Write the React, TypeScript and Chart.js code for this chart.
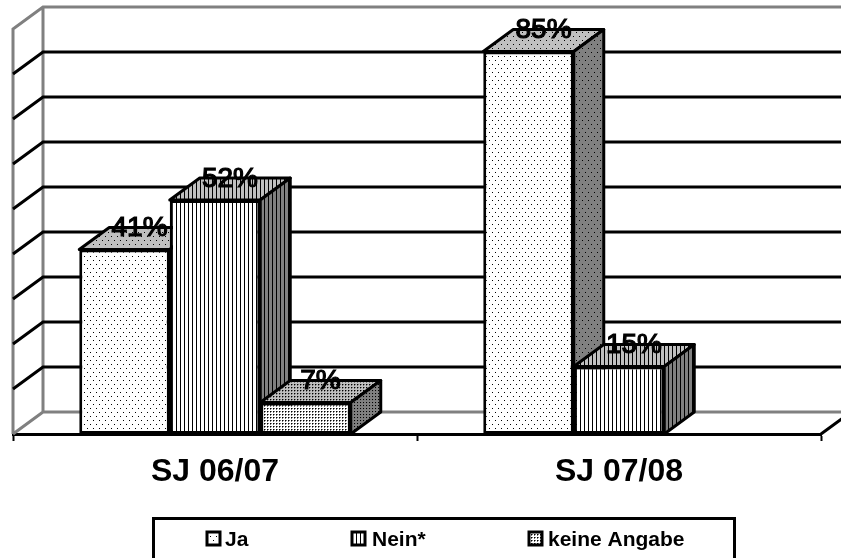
import React, { useEffect, useRef } from "react";
import { Chart, registerables } from "chart.js";

Chart.register(...registerables);

const categories = ["SJ 06/07", "SJ 07/08"];
const ja = [41, 85];
const nein = [52, 15];
const keineAngabe = [7, null];
const seriesNames = ["Ja", "Nein*", "keine Angabe"];
const yTicks = { min: 0, max: 90, stepSize: 10 };

const DEPTH_X = 30;
const DEPTH_Y = 22;
const FONT = '"Liberation Sans", Arial, sans-serif';

type Kind = 0 | 1 | 2;

function makePattern(ctx: CanvasRenderingContext2D, kind: Kind, bg: string) {
  const c = document.createElement("canvas");
  const g = c.getContext("2d")!;
  c.width = kind === 0 ? 6 : kind === 1 ? 4 : 3;
  c.height = kind === 0 ? 8 : kind === 1 ? 4 : 3;
  g.fillStyle = bg;
  g.fillRect(0, 0, c.width, c.height);
  g.fillStyle = "#000";
  if (kind === 0) {
    g.fillRect(0, 0, 1, 1);
    g.fillRect(3, 4, 1, 1);
  } else if (kind === 1) {
    g.fillRect(0, 0, 1, 4);
  } else {
    g.fillRect(0, 0, 1, 1);
    g.fillStyle = "#777";
    g.fillRect(1, 0, 1, 1);
    g.fillRect(0, 1, 1, 1);
  }
  return ctx.createPattern(c, "repeat")!;
}

const poly = (ctx: CanvasRenderingContext2D, pts: number[][], fill: any) => {
  ctx.beginPath();
  pts.forEach((p, i) => (i ? ctx.lineTo(p[0], p[1]) : ctx.moveTo(p[0], p[1])));
  ctx.closePath();
  ctx.fillStyle = fill;
  ctx.fill();
  ctx.stroke();
};

const walls3d = {
  id: "walls3d",
  beforeDatasetsDraw(chart: any) {
    const { ctx, chartArea: a, scales } = chart;
    const width = chart.width;
    ctx.save();
    ctx.lineWidth = 3;
    ctx.strokeStyle = "#808080";
    const topFront = scales.y.getPixelForValue(yTicks.max);
    const floor = scales.y.getPixelForValue(0);
    ctx.beginPath();
    ctx.moveTo(a.left, floor);
    ctx.lineTo(a.left, topFront);
    ctx.lineTo(a.left + DEPTH_X, topFront - DEPTH_Y);
    ctx.lineTo(width, topFront - DEPTH_Y);
    ctx.moveTo(a.left + DEPTH_X, topFront - DEPTH_Y);
    ctx.lineTo(a.left + DEPTH_X, floor - DEPTH_Y);
    ctx.lineTo(width, floor - DEPTH_Y);
    ctx.moveTo(a.left + DEPTH_X, floor - DEPTH_Y);
    ctx.lineTo(a.left, floor);
    ctx.stroke();

    ctx.strokeStyle = "#000";
    ctx.beginPath();
    scales.y.ticks.forEach((t: any) => {
      const y = scales.y.getPixelForValue(t.value);
      if (t.value === yTicks.min || t.value === yTicks.max) return;
      ctx.moveTo(a.left, y);
      ctx.lineTo(a.left + DEPTH_X, y - DEPTH_Y);
      ctx.lineTo(width, y - DEPTH_Y);
    });
    ctx.moveTo(a.right, floor);
    ctx.lineTo(a.right + DEPTH_X, floor - DEPTH_Y);
    ctx.stroke();

    // side and top faces of every bar, in dataset order
    ctx.lineWidth = 3;
    ctx.strokeStyle = "#000";
    ctx.lineJoin = "round";
    chart.data.datasets.forEach((ds: any, di: number) => {
      const meta = chart.getDatasetMeta(di);
      meta.data.forEach((el: any, i: number) => {
        if (ds.data[i] === null) return;
        const l = el.x - el.width / 2;
        const r = el.x + el.width / 2;
        const t = el.y;
        const b = el.base;
        poly(ctx, [[l, t], [l + DEPTH_X, t - DEPTH_Y], [r + DEPTH_X, t - DEPTH_Y], [r, t]], makePattern(ctx, di as Kind, "#c0c0c0"));
        poly(ctx, [[r, t], [r + DEPTH_X, t - DEPTH_Y], [r + DEPTH_X, b - DEPTH_Y], [r, b]], makePattern(ctx, di as Kind, "#808080"));
      });
    });
    ctx.restore();
  },
  afterDatasetsDraw(chart: any) {
    const { ctx } = chart;
    ctx.save();
    ctx.font = `28px ${FONT}`;
    ctx.fillStyle = "#000";
    ctx.strokeStyle = "#000";
    ctx.lineWidth = 1.2;
    ctx.textAlign = "center";
    ctx.textBaseline = "middle";
    chart.data.datasets.forEach((ds: any, di: number) => {
      chart.getDatasetMeta(di).data.forEach((el: any, i: number) => {
        if (ds.data[i] === null) return;
        const text = `${ds.data[i]}%`;
        ctx.fillText(text, el.x + DEPTH_X / 2, el.y - DEPTH_Y + 1);
        ctx.strokeText(text, el.x + DEPTH_X / 2, el.y - DEPTH_Y + 1);
      });
    });
    ctx.restore();

    // legend
    ctx.save();
    ctx.strokeStyle = "#000";
    ctx.lineWidth = 3;
    ctx.strokeRect(153.5, 518.5, 581, 44);
    const swatchX = [207, 352, 529];
    const textX = [225, 372, 548];
    ctx.font = `bold 21px ${FONT}`;
    ctx.textBaseline = "middle";
    ctx.textAlign = "left";
    seriesNames.forEach((name, i) => {
      ctx.fillStyle = makePattern(ctx, i as Kind, "#fff");
      ctx.fillRect(swatchX[i], 532, 13, 13);
      ctx.lineWidth = 3;
      ctx.strokeRect(swatchX[i], 532, 13, 13);
      ctx.fillStyle = "#000";
      ctx.fillText(name, textX[i], 540);
    });
    ctx.restore();
  },
};

export default function App() {
  const ref = useRef<HTMLCanvasElement>(null);
  useEffect(() => {
    const ctx = ref.current!.getContext("2d")!;
    const chart = new Chart(ctx, {
      type: "bar",
      data: {
        labels: categories,
        datasets: [ja, nein, keineAngabe].map((data, i) => ({
          label: seriesNames[i],
          data,
          backgroundColor: makePattern(ctx, i as Kind, "#fff"),
          borderColor: "#000",
          borderWidth: 3,
          borderSkipped: false,
          categoryPercentage: 0.672,
          barPercentage: 1,
        })),
      } as any,
      options: {
        responsive: false,
        animation: false,
        layout: { padding: { left: 5, right: 20, top: 29, bottom: 0 } },
        plugins: { legend: { display: false }, tooltip: { enabled: false } },
        scales: {
          x: {
            border: { color: "#000", width: 3 },
            grid: { drawOnChartArea: false, color: "#000", tickColor: "#000", tickLength: 7, tickWidth: 2 },
            ticks: { color: "#000", padding: 12, font: { family: FONT, size: 32, weight: "bold" }, maxRotation: 0 },
            afterFit: (s: any) => { s.height = 124; },
          },
          y: {
            min: yTicks.min,
            max: yTicks.max,
            border: { display: false },
            grid: { display: false },
            ticks: { display: false, stepSize: yTicks.stepSize },
          },
        },
      },
      plugins: [walls3d],
    } as any);
    return () => chart.destroy();
  }, []);
  return (
    <div style={{ position: "fixed", left: 0, top: 0, width: 841, height: 558, background: "#fff", overflow: "hidden" }}>
      <canvas ref={ref} width={841} height={558} style={{ display: "block" }} />
    </div>
  );
}
